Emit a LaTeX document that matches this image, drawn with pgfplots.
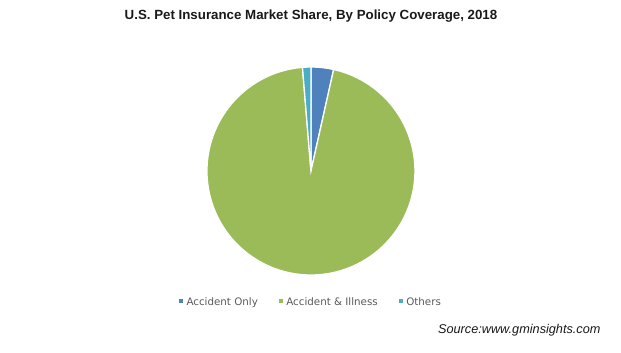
\documentclass[border=0pt]{standalone}
\usepackage{pgfplots}
\pgfplotsset{compat=1.18}
\usepackage{pgfplotstable}
\usepackage{fontspec}
\setmainfont{Liberation Sans}
\newfontfamily\legendfont{DejaVu Sans}
\definecolor{cA}{HTML}{4F81BD}
\definecolor{cB}{HTML}{9BBB59}
\definecolor{cC}{HTML}{4BACC6}
\definecolor{legtext}{HTML}{595959}
\pgfplotstableread{
label share
AccidentOnly 3.5
AccidentIllness 95.2
Others 1.3
}\sharetable
\begin{document}
\begin{tikzpicture}[x=1pt,y=1pt]
\useasboundingbox (0,0) rectangle (621,353);
\pgfplotstablegetelem{0}{share}\of\sharetable \let\sA\pgfplotsretval
\pgfplotstablegetelem{1}{share}\of\sharetable \let\sB\pgfplotsretval
\pgfplotstablegetelem{2}{share}\of\sharetable \let\sC\pgfplotsretval
\pgfmathsetmacro\aA{90-3.6*\sA}
\pgfmathsetmacro\aB{\aA-3.6*\sB}
\pgfmathsetmacro\aC{\aB-3.6*\sC}
\begin{axis}[at={(199,75)}, anchor=south west, scale only axis,
  width=208pt, height=208pt, xmin=-1, xmax=1, ymin=-1, ymax=1,
  hide axis, clip=false,
  legend columns=3,
  legend style={draw=none, fill=none, at={(0.5,-0.13)}, anchor=center,
    font=\legendfont\fontsize{10.3}{12}\selectfont, text=legtext,
    /tikz/every even column/.append style={column sep=19pt},
    /tikz/every odd column/.append style={column sep=1.5pt}},
  legend image code/.code={\fill[#1, draw=none] (0pt,-0.8pt) rectangle (4pt,3.2pt);}]
\addplot[fill=cA, draw=white, line width=1.3pt, domain=\aA:90, samples=30] ({cos(x)},{sin(x)}) -- (axis cs:0,0) -- cycle;
\addlegendentry{Accident Only}
\addplot[fill=cB, draw=white, line width=1.3pt, domain=\aB:\aA, samples=300] ({cos(x)},{sin(x)}) -- (axis cs:0,0) -- cycle;
\addlegendentry{Accident \& Illness}
\addplot[fill=cC, draw=white, line width=1.3pt, domain=\aC:\aB, samples=20] ({cos(x)},{sin(x)}) -- (axis cs:0,0) -- cycle;
\addlegendentry{Others}
\end{axis}
\node[font=\bfseries\fontsize{13.3}{15}\selectfont, text=black!90] at (311,337) {U.S. Pet Insurance Market Share, By Policy Coverage, 2018};
\node[font=\itshape\fontsize{12.7}{14}\selectfont, anchor=east, text=black!90] at (604,23) {Source:www.gminsights.com};
\end{tikzpicture}
\end{document}
